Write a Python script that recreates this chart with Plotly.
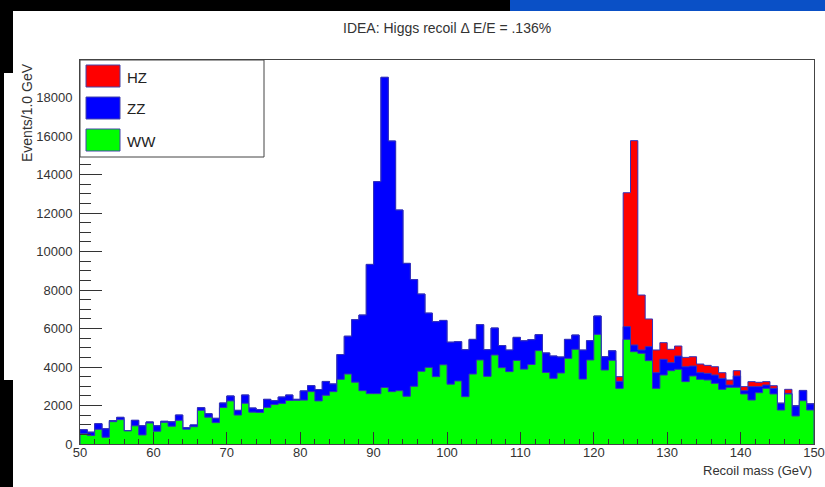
import numpy as np
import plotly.graph_objects as go

# Recoil-mass histogram: 100 bins of 1 GeV from 50 to 150 GeV
bin_edges = list(range(50, 151))

ww_events = [
    540, 440, 760, 350, 1160, 1265, 680, 945, 470, 1090,
    665, 1125, 925, 1230, 770, 900, 1750, 1395, 1110, 1895,
    2240, 1505, 2115, 1655, 1640, 1900, 2050, 2110, 2260, 2270,
    2280, 2720, 2240, 2530, 2720, 3360, 3635, 3210, 2770, 2615,
    2615, 2935, 2720, 2770, 2480, 3000, 3780, 3980, 3500, 4115,
    3110, 3275, 2460, 3635, 4365, 3515, 4625, 3965, 3760, 4340,
    3890, 4130, 4850, 3715, 3410, 3690, 4450, 4920, 3375, 4365,
    5695, 3845, 4345, 2890, 5435, 4795, 4710, 4330, 2890, 3585,
    3810, 3880, 3240, 3535, 3360, 3325, 3150, 2840, 2945, 2945,
    2600, 2285, 2665, 2890, 2600, 1765, 2600, 1455, 2250, 1765,
]

zz_events = [
    200, 175, 295, 440, 60, 120, 20, 285, 475, 55,
    280, 55, 225, 275, 85, 90, 135, 180, 225, 235,
    255, 245, 430, 215, 150, 420, 200, 330, 285, 50,
    480, 310, 590, 720, 400, 1290, 1965, 3250, 3930, 6715,
    11015, 16115, 13020, 9385, 6905, 5540, 4010, 2820, 2855, 2305,
    2180, 2040, 2440, 1800, 1835, 1385, 1400, 1150, 1120, 1200,
    1470, 1290, 830, 1015, 1160, 830, 985, 740, 1505, 1000,
    955, 690, 495, 365, 660, 350, 175, 725, 815, 815,
    415, 690, 775, 515, 345, 345, 435, 570, 120, 590,
    170, 695, 315, 175, 290, 345, 30, 520, 520, 315,
]

hz_events = [0] * 73 + [
    245, 6960, 10615, 2855, 1440, 1180, 865, 695, 520, 485,
    485, 450, 415, 430, 295, 260, 275, 210, 260, 225,
    175, 140, 20, 210, 20, 15, 15,
]

series_names = ["HZ", "ZZ", "WW"]
series_colors = ["#ff0000", "#0000ff", "#00ff00"]
outline_color = "#3333bb"

title_text = "IDEA: Higgs recoil \u0394 E/E = .136%"
x_title = "Recoil mass (GeV)"
y_title = "Events/1.0 GeV"

font_family = "Liberation Sans, Arial, sans-serif"
text_color = "#333333"

# Stacked (cumulative) levels, drawn from the top of the stack downwards
ww = np.array(ww_events, dtype=float)
zz = np.array(zz_events, dtype=float)
hz = np.array(hz_events, dtype=float)
stack_levels = {
    "HZ": ww + zz + hz,
    "ZZ": ww + zz,
    "WW": ww,
}

fig = go.Figure()
step_x = [bin_edges[0]] + bin_edges
for name, color in zip(series_names, series_colors):
    level = stack_levels[name]
    step_y = [0.0] + list(level) + [0.0]
    fig.add_trace(go.Scatter(
        x=step_x, y=step_y, name=name,
        mode="lines", line=dict(shape="hv", color=outline_color, width=1),
        fill="tozeroy", fillcolor=color, showlegend=False,
        hoverinfo="skip",
    ))

# Figure geometry (pixels)
W, H = 825, 487
L, R, T, B = 80, 11, 60, 43
pw, ph = W - L - R, H - T - B


def px(xp):
    return (xp - L) / pw


def py(yp):
    return (H - B - yp) / ph


shapes = []
annotations = []

# Legend box with filled swatches
shapes.append(dict(type="rect", xref="paper", yref="paper",
                   x0=px(80), x1=px(264), y0=py(157), y1=py(60),
                   fillcolor="white", line=dict(color="#444444", width=1),
                   layer="above"))
for i, (name, color) in enumerate(zip(series_names, series_colors)):
    top = 65 + 32 * i
    shapes.append(dict(type="rect", xref="paper", yref="paper",
                       x0=px(86), x1=px(120), y0=py(top + 22), y1=py(top),
                       fillcolor=color, line=dict(color="#4444aa", width=1),
                       layer="above"))
    annotations.append(dict(xref="paper", yref="paper", x=px(125), y=py(top + 12),
                            text=name, showarrow=False, xanchor="left", yanchor="middle",
                            font=dict(family=font_family, size=15, color="#222222")))

# Title and axis titles
annotations.append(dict(xref="paper", yref="paper", x=0.5, y=py(28),
                        text=title_text, showarrow=False, xanchor="center", yanchor="middle",
                        font=dict(family=font_family, size=14, color=text_color)))
annotations.append(dict(xref="paper", yref="paper", x=px(814), y=py(470),
                        text=x_title, showarrow=False, xanchor="right", yanchor="middle",
                        font=dict(family=font_family, size=13, color=text_color)))
annotations.append(dict(xref="paper", yref="paper", x=px(27), y=py(113),
                        text=y_title, showarrow=False, textangle=-90,
                        xanchor="center", yanchor="middle",
                        font=dict(family=font_family, size=14, color=text_color)))

# Dark border strips around the canvas
frame_fill = dict(type="rect", xref="paper", yref="paper", line=dict(width=0), layer="above")
shapes.append(dict(frame_fill, x0=px(0), x1=px(510), y0=py(11), y1=py(0), fillcolor="black"))
shapes.append(dict(frame_fill, x0=px(510), x1=px(825), y0=py(11), y1=py(0), fillcolor="#0a50c6"))
shapes.append(dict(frame_fill, x0=px(0), x1=px(13), y0=py(73), y1=py(0), fillcolor="black"))
shapes.append(dict(frame_fill, x0=px(0), x1=px(4), y0=py(487), y1=py(0), fillcolor="black"))
shapes.append(dict(frame_fill, x0=px(0), x1=px(13), y0=py(487), y1=py(380), fillcolor="black"))

fig.update_layout(
    width=W, height=H, autosize=False,
    margin=dict(l=L, r=R, t=T, b=B, pad=0, autoexpand=False),
    paper_bgcolor="white", plot_bgcolor="white",
    showlegend=False,
    shapes=shapes, annotations=annotations,
    font=dict(family=font_family, size=13, color=text_color),
)
fig.update_xaxes(
    range=[50, 150], tick0=50, dtick=10, ticks="inside", ticklen=12, tickwidth=1,
    tickcolor="#333333", showgrid=False, zeroline=False, automargin=False,
    showline=True, linecolor="#444444", linewidth=1, mirror=True,
    tickfont=dict(family=font_family, size=13, color=text_color),
    ticklabelstandoff=-4,
    minor=dict(dtick=2, ticks="inside", ticklen=5, tickcolor="#333333", showgrid=False),
)
fig.update_yaxes(
    range=[0, 19950], tick0=0, dtick=2000, ticks="inside", ticklen=22, tickwidth=1,
    tickcolor="#333333", showgrid=False, zeroline=False, automargin=False,
    showline=True, linecolor="#444444", linewidth=1, mirror=True,
    tickformat="d",
    tickfont=dict(family=font_family, size=13, color=text_color),
    ticklabelstandoff=4,
    minor=dict(dtick=500, ticks="inside", ticklen=11, tickcolor="#333333", showgrid=False),
)

fig.write_html("out.html")
